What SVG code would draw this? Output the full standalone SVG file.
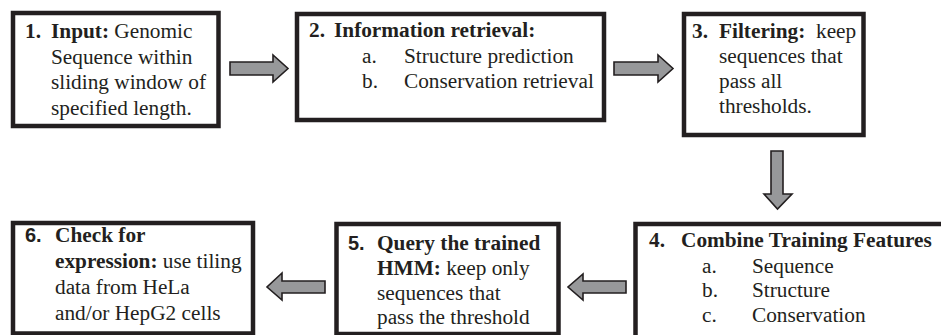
<svg xmlns="http://www.w3.org/2000/svg" width="941" height="335" viewBox="0 0 941 335">
<style>
.box{fill:#fff;stroke:#231f20;stroke-width:4.5}
text{font-family:'Liberation Serif','DejaVu Serif',serif;font-size:21.3px;fill:#231f20}
.b{font-weight:bold}
.s{font-family:'Liberation Sans','DejaVu Sans',sans-serif;font-weight:bold;font-size:20px}
.arr{fill:#97989a;stroke:#231f20;stroke-width:1.6;stroke-linejoin:miter}
</style>
<rect width="941" height="335" fill="#fff"/>
<g id="node1">
<rect class="box" x="13" y="13" width="205.5" height="113"/>
<text><tspan class="b" x="25" y="38">1.</tspan><tspan class="b" x="51" y="38">Input:</tspan><tspan> Genomic</tspan><tspan x="51" y="63.5">Sequence within</tspan><tspan x="51" y="89">sliding window of</tspan><tspan x="51" y="114.5">specified length.</tspan></text>
</g>
<g id="node2">
<rect class="box" x="297" y="14" width="307" height="106"/>
<text><tspan class="b" x="309" y="37">2.</tspan><tspan class="b" x="334" y="37">Information retrieval:</tspan><tspan x="362" y="63">a.</tspan><tspan x="404" y="63">Structure prediction</tspan><tspan x="362" y="88">b.</tspan><tspan x="404" y="88">Conservation retrieval</tspan></text>
</g>
<g id="node3">
<rect class="box" x="684" y="14" width="179.5" height="121"/>
<text><tspan class="b" x="692" y="38">3.</tspan><tspan class="b" x="719" y="38">Filtering:</tspan><tspan x="816" y="38">keep</tspan><tspan x="719" y="63">sequences that</tspan><tspan x="719" y="88">pass all</tspan><tspan x="719" y="113">thresholds.</tspan></text>
</g>
<g id="node4">
<rect class="box" x="635.5" y="224" width="320" height="130"/>
<text><tspan class="b" x="649" y="247">4.</tspan><tspan class="b" x="681" y="247">Combine Training Features</tspan><tspan x="702" y="273">a.</tspan><tspan x="752" y="273">Sequence</tspan><tspan x="702" y="297">b.</tspan><tspan x="752" y="297">Structure</tspan><tspan x="702" y="322">c.</tspan><tspan x="752" y="322">Conservation</tspan></text>
</g>
<g id="node5">
<rect class="box" x="336.5" y="224" width="222" height="110"/>
<text><tspan class="s" x="348" y="250">5.</tspan><tspan class="b" x="377" y="250">Query the trained</tspan><tspan class="b" x="377" y="275">HMM:</tspan><tspan> keep only</tspan><tspan x="377" y="300">sequences that</tspan><tspan x="377" y="324">pass the threshold</tspan></text>
</g>
<g id="node6">
<rect class="box" x="13" y="223" width="240" height="110.5"/>
<text><tspan class="s" x="25" y="242">6.</tspan><tspan class="b" x="55" y="242">Check for</tspan><tspan class="b" x="55" y="268">expression:</tspan><tspan> use tiling</tspan><tspan x="55" y="294">data from HeLa</tspan><tspan x="55" y="320">and/or HepG2 cells</tspan></text>
</g>
<g id="connectors">
<path class="arr" d="M230,62 H273 V55 L288,68.5 L273,82 V75 H230 Z"/>
<path class="arr" d="M614,62 H658 V55 L673,68.5 L658,82 V75 H614 Z"/>
<path class="arr" d="M771,151 H783 V194 H792 L777.5,209 L764,194 H771 Z"/>
<path class="arr" d="M626,281 H583 V274 L568,287 L583,300 V293 H626 Z"/>
<path class="arr" d="M325,281 H282 V273 L267,287 L282,300 V293 H325 Z"/>
</g>
</svg>
